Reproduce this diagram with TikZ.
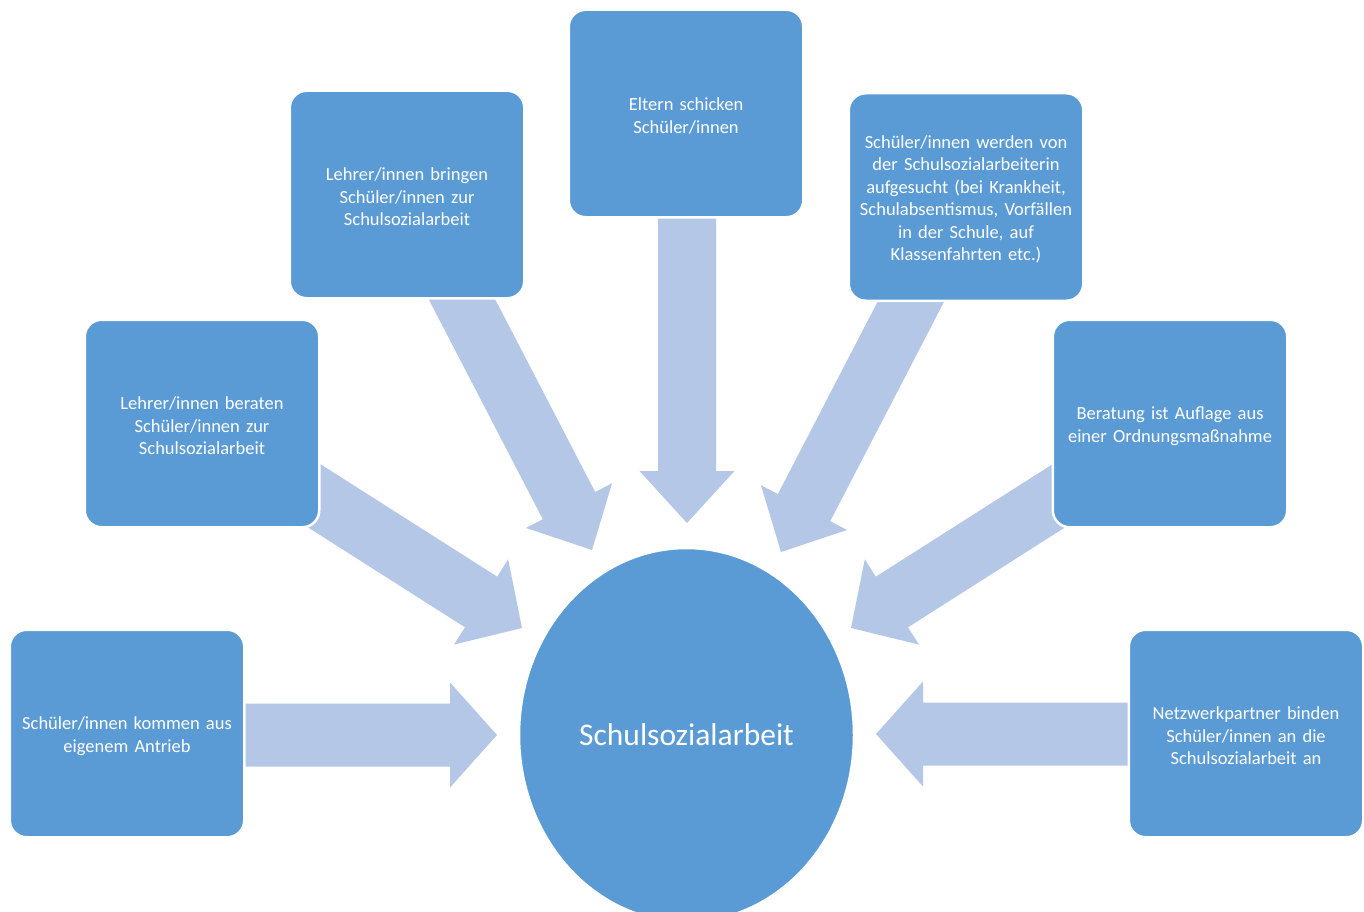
\documentclass[tikz,border=0pt]{standalone}
\usepackage{fontspec}
\setmainfont{Carlito}
\usetikzlibrary{calc,backgrounds,shapes.geometric}
\definecolor{boxblue}{HTML}{5B9BD5}
\definecolor{arrowblue}{HTML}{B4C7E7}
\tikzset{
  sbox/.style={rectangle, rounded corners=17pt, fill=boxblue, draw=white, line width=2.5pt,
    minimum width=234.5pt, minimum height=207.5pt, inner sep=0pt},
  stext/.style={text width=224pt, align=center, text=white,
    inner sep=0pt, font=\fontsize{18.5}{22.5}\selectfont},
  hub/.style={ellipse, fill=boxblue, draw=white, line width=2.5pt, minimum width=335pt,
    minimum height=374pt, text=white, inner sep=0pt, font=\fontsize{31.5}{36}\selectfont},
  sarrow/.style={fill=arrowblue, draw=none}
}
\newcommand{\rbox}[3]{%
  \node[sbox] (#1) at (#2) {};
  \node[stext] (#1-t) at ($(#1)+(0,2.5)$) {#3};}
\newcommand{\blockarrow}[5]{%
  \coordinate (ba-h) at ($(#2)!#5!(#1)$);
  \path[sarrow] ($(#1)!#3!90:(#2)$) -- ($(ba-h)!#3!90:(#2)$) -- ($(ba-h)!#4!90:(#2)$) -- (#2)
    -- ($(ba-h)!#4!-90:(#2)$) -- ($(ba-h)!#3!-90:(#2)$) -- ($(#1)!#3!-90:(#2)$) -- cycle;}
\begin{document}
\begin{tikzpicture}[x=1pt,y=-1pt]
\clip (0,0) rectangle (1364,912);
% hub
\node[hub] (hub) at (686.5,735) {Schulsozialarbeit};
% boxes
\rbox{b1}{127,733.5}{Schüler/innen kommen aus\\eigenem Antrieb}
\rbox{b2}{202,423.5}{Lehrer/innen beraten\\Schüler/innen zur\\Schulsozialarbeit}
\rbox{b3}{407,194.5}{Lehrer/innen bringen\\Schüler/innen zur\\Schulsozialarbeit}
\rbox{b4}{686,113.5}{Eltern schicken\\Schüler/innen}
\rbox{b5}{966,197}{Schüler/innen werden von\\der Schulsozialarbeiterin\\aufgesucht (bei Krankheit,\\Schulabsentismus, Vorfällen\\in der Schule, auf\\Klassenfahrten etc.)}
\rbox{b6}{1170,423.5}{Beratung ist Auflage aus\\einer Ordnungsmaßnahme}
\rbox{b7}{1246,733.5}{Netzwerkpartner binden\\Schüler/innen an die\\Schulsozialarbeit an}
% arrow end points
\coordinate (t1) at (200,735);  \coordinate (p1) at (497,735);
\coordinate (t2) at (269,467);  \coordinate (p2) at (522,628);
\coordinate (t3) at (440,257);  \coordinate (p3) at (592,550);
\coordinate (t4) at (687,180);  \coordinate (p4) at (687,523);
\coordinate (t5) at (933,259);  \coordinate (p5) at (781,552);
\coordinate (t6) at (1104,467); \coordinate (p6) at (851,628);
\coordinate (t7) at (1170,734); \coordinate (p7) at (876,734);
\begin{pgfonlayer}{background}
\fill[white] (0,0) rectangle (1364,912);
\blockarrow{t1}{p1}{31.5pt}{52.5pt}{47pt}
\blockarrow{t2}{p2}{30pt}{50.5pt}{48.5pt}
\blockarrow{t3}{p3}{29.5pt}{48.5pt}{50pt}
\blockarrow{t4}{p4}{29pt}{47.5pt}{52pt}
\blockarrow{t5}{p5}{29.5pt}{48.5pt}{50pt}
\blockarrow{t6}{p6}{30pt}{50.5pt}{48.5pt}
\blockarrow{t7}{p7}{31.5pt}{52.5pt}{47pt}
\end{pgfonlayer}
\end{tikzpicture}
\end{document}
